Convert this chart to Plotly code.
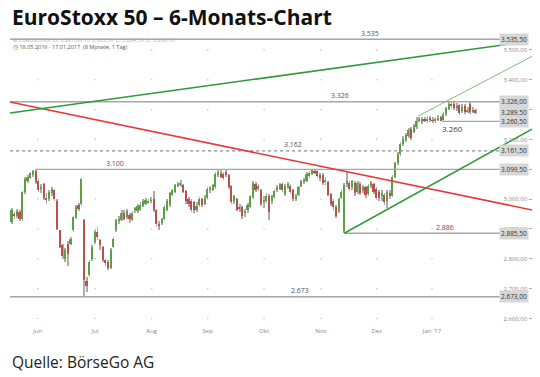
import plotly.graph_objects as go
import numpy as np

# ---------------- data ----------------
opens = [2922,2950,2945,2958,2932,3024,3060,3072,3080,3095,
         3062,3035,3050,3005,3000,3020,3030,2995,2895,2845,
         2800,2850,2850,2896,2940,2980,2982,2930,2726,2746,
         2798,2855,2890,2862,2838,2795,2790,2770,2840,2895,
         2925,2930,2955,2940,2948,2930,2962,2960,2965,2978,
         2985,2990,2992,3000,2962,2918,2920,2935,2965,2980,
         3015,3025,3045,3050,3048,3028,3000,2995,2990,2965,
         2980,3000,2985,3003,3030,3032,3040,3080,3088,3085,
         3092,3080,3045,2995,3000,2975,2972,2952,2962,2975,
         3008,3052,3035,3030,2990,2995,3012,2995,3008,3030,
         3035,3050,3018,3040,3045,3030,3000,3015,3045,3058,
         3062,3078,3085,3094,3095,3080,3082,3060,3058,3018,
         2995,2975,2960,3005,2892,3050,3055,3040,3055,3025,
         3052,3030,3040,3018,3045,3050,3035,3025,3010,3015,
         2995,3020,3012,3075,3120,3150,3185,3198,3212,3235,
         3225,3240,3265,3258,3268,3262,3270,3265,3262,3268,
         3275,3265,3285,3302,3318,3320,3305,3315,3295,3312,
         3295,3318,3295,3297]
highs = [2970,2958,2968,2965,3028,3075,3080,3092,3098,3099.5,
         3066,3050,3055,3020,3030,3040,3035,3000,2898,2850,
         2835,2858,2872,2945,2980,2988,3072,2935,2738,2795,
         2845,2895,2905,2868,2842,2800,2795,2835,2872,2935,
         2945,2962,2965,2968,2955,2960,2975,2985,2990,3000,
         3005,3000,3008,3028,2968,2925,2938,2980,3000,3025,
         3035,3052,3058,3064,3052,3032,3008,3000,2995,2990,
         3008,3005,3015,3040,3045,3052,3090,3098,3097,3092,
         3097,3085,3048,3015,3005,2985,2978,2968,2988,3015,
         3060,3058,3052,3035,3010,3020,3018,3015,3035,3048,
         3055,3058,3050,3058,3052,3035,3018,3045,3065,3072,
         3090,3095,3099,3098,3100,3088,3088,3075,3062,3022,
         3002,2980,3005,3032,3055,3090,3062,3065,3060,3060,
         3058,3048,3045,3050,3062,3055,3040,3032,3030,3022,
         3030,3030,3080,3125,3158,3192,3210,3222,3238,3240,
         3252,3275,3276,3275,3276,3278,3280,3275,3274,3282,
         3280,3292,3310,3326,3325,3324,3322,3320,3318,3318,
         3310,3324,3308,3303.5]
lows = [2915,2935,2938,2925,2926,3018,3055,3068,3075,3052,
        3025,3020,2998,2985,2995,3012,2995,2895,2835,2800,
        2790,2775,2845,2890,2935,2960,2978,2672.7,2690,2740,
        2792,2850,2862,2830,2788,2775,2762,2765,2835,2890,
        2918,2925,2930,2935,2920,2925,2955,2955,2960,2972,
        2980,2985,2988,2958,2908,2895,2912,2930,2960,2975,
        3010,3020,3040,3042,3020,2985,2975,2958,2955,2958,
        2975,2972,2980,2998,3022,3028,3035,3075,3070,3065,
        3075,3035,2985,2985,2960,2958,2935,2940,2955,2970,
        3002,3025,3028,2978,2970,2988,2930,2985,3002,3025,
        3030,3025,3012,3035,3018,2995,2992,3010,3040,3052,
        3058,3072,3080,3085,3070,3062,3048,3048,3010,2978,
        2960,2938,2952,3000,2885.5,3040,3028,3032,3012,3018,
        3015,3020,3005,3010,3038,3018,2998,2995,2995,2980,
        2970,3000,3008,3070,3115,3145,3178,3190,3205,3198,
        3220,3235,3258,3252,3258,3255,3260,3255,3255,3262,
        3260.5,3262,3280,3298,3305,3298,3295,3282,3288,3285,
        3290,3285,3288,3284.5]
closes = [2963,2943,2960,2932,3024,3068,3075,3087,3095,3058,
          3032,3040,3005,2998,3025,3035,3000,2900,2840,2808,
          2830,2815,2865,2940,2975,2968,3068,2730,2710,2790,
          2840,2890,2872,2845,2795,2785,2770,2830,2868,2930,
          2935,2955,2935,2960,2932,2955,2970,2978,2980,2992,
          2997,2992,3000,2962,2915,2912,2932,2975,2995,3020,
          3030,3047,3052,3055,3025,2995,2985,2965,2963,2978,
          3002,2980,3005,3035,3038,3047,3085,3090,3075,3072,
          3082,3040,2990,3010,2965,2968,2942,2960,2980,3010,
          3055,3030,3045,2985,2998,3012,2958,3010,3028,3040,
          3050,3030,3045,3052,3025,3000,3012,3040,3060,3065,
          3085,3088,3096,3090,3078,3072,3055,3065,3015,2985,
          2975,2945,3000,3025,3048,3060,3035,3060,3020,3055,
          3022,3040,3015,3045,3055,3025,3005,3005,3020,2990,
          3025,3010,3075,3120,3150,3185,3200,3215,3230,3205,
          3245,3262,3270,3268,3265,3270,3266,3262,3268,3272,
          3262,3285,3305,3320,3315,3305,3312,3290,3310,3292,
          3300,3292,3300,3289.5]

month_labels = ["Jun", "Jul", "Aug", "Sep", "Okt", "Nov", "Dez", "Jan '17"]
month_pos = [9.7, 31.1, 52.2, 73.1, 94.1, 115.3, 136.1, 156.7]

y_ticks = [2600, 2700, 2800, 2900, 3000, 3100, 3200, 3300, 3400, 3500]
y_ticktext = ["2.600,00", "2.700,00", "2.800,00", "2.900,00", "3.000,00",
              "3.100,00", "3.200,00", "3.300,00", "3.400,00", "3.500,00"]

# horizontal support / resistance levels
level_values = [3535.5, 3326.0, 3260.5, 3161.5, 3099.5, 2885.5, 2673.0]
level_start = [-0.6, -0.6, 160.5, -0.6, 9.0, 124.0, -0.6]
level_names = ["3.535", "3.326", "3.260", "3.162", "3.100", "2.886", "2.673"]
level_name_pos = [133.6, 122.4, 164.2, 104.9, 38.5, 161.6, 107.5]
level_dash = ["solid", "solid", "solid", "dot", "solid", "solid", "solid"]
level_end = 182.1

# price boxes on the right
box_values = [3535.5, 3326.0, 3289.5, 3260.5, 3161.5, 3099.5, 2885.5, 2673.0]
box_texts = ["3.535,50", "3.326,00", "3.289,50", "3.260,50", "3.161,50",
             "3.099,50", "2.885,50", "2.673,00"]

# trend lines (two anchor points each)
red_x, red_y = [-0.63, 194.4], [3325.4, 2963.0]
glong_x, glong_y = [-0.63, 190.0], [3288.5, 3524.7]
gsup_x, gsup_y = [124.0, 194.0], [2885.5, 3234.4]
gch_x, gch_y = [151.5, 194.0], [3278.0, 3478.2]

# ---------------- figure ----------------
o = np.array(opens, float); h = np.array(highs, float)
l = np.array(lows, float); c = np.array(closes, float)
idx = np.arange(len(o))
up = c >= o
GREEN = "#5e9e44"
RED = "#b8504c"

fig = go.Figure()

# dot grid
gx, gy = np.meshgrid(month_pos, y_ticks)
fig.add_trace(go.Scatter(x=gx.ravel(), y=gy.ravel(), mode="markers",
                         marker=dict(size=1.6, color="#c8c8c8"),
                         hoverinfo="skip", showlegend=False))

# horizontal levels
for v, s, d in zip(level_values, level_start, level_dash):
    fig.add_trace(go.Scatter(x=[s, level_end], y=[v, v], mode="lines",
                             line=dict(color="#8a8a8a" if d == "dot" else "#a6a6a6",
                                       width=1.4, dash=d),
                             hoverinfo="skip", showlegend=False))

# wicks
fig.add_trace(go.Bar(x=idx, y=h - l, base=l, width=0.28,
                     marker=dict(color="#ababab", line=dict(width=0)),
                     hoverinfo="skip", showlegend=False))
# bodies
body_lo = np.minimum(o, c)
body_h = np.maximum(np.abs(c - o), 2.0)
fig.add_trace(go.Bar(x=idx, y=body_h, base=body_lo, width=0.6,
                     marker=dict(color=[GREEN if u else RED for u in up],
                                 line=dict(width=0)),
                     hoverinfo="skip", showlegend=False))

# trend lines
fig.add_trace(go.Scatter(x=red_x, y=red_y, mode="lines",
                         line=dict(color="#e8383a", width=1.5), showlegend=False, hoverinfo="skip"))
fig.add_trace(go.Scatter(x=glong_x, y=glong_y, mode="lines",
                         line=dict(color="#2f9a3a", width=1.5), showlegend=False, hoverinfo="skip"))
fig.add_trace(go.Scatter(x=gsup_x, y=gsup_y, mode="lines",
                         line=dict(color="#2f9a3a", width=1.5), showlegend=False, hoverinfo="skip"))
fig.add_trace(go.Scatter(x=gch_x, y=gch_y, mode="lines",
                         line=dict(color="#7cc278", width=1), showlegend=False, hoverinfo="skip"))

annotations = []
for name, pos, v in zip(level_names, level_name_pos, level_values):
    below = name == "3.260"
    annotations.append(dict(x=pos, y=v, xref="x", yref="y", text=name, showarrow=False,
                            yshift=-7 if below else 6,
                            font=dict(family="Open Sans", size=8 if below else 7,
                                      color="#444" if below else "#555")))
for t, v in zip(box_texts, box_values):
    annotations.append(dict(x=0.9943, y=v, xref="paper", yref="y", text=t, showarrow=False,
                            xanchor="right", yanchor="middle", bgcolor="#d7d7d7",
                            borderpad=1, font=dict(family="Open Sans", size=6.5, color="#333")))

PT, PB = 33, 326
def py(p):
    return (PB - p) / (PB - PT)

annotations += [
    dict(x=0.0, y=py(17), xref="paper", yref="paper", xanchor="left", yanchor="middle",
         xshift=2, text="<b>EuroStoxx 50 – 6-Monats-Chart</b>", showarrow=False,
         font=dict(family="Open Sans", size=21, color="#111")),
    dict(x=0.0, y=py(40), xref="paper", yref="paper", xanchor="left", yanchor="middle",
         xshift=3, text="Ø EUROSTOXX  O: 3.297,00  H: 3.303,50  L: 3.284,50  C: 3.289,50",
         showarrow=False, font=dict(family="Open Sans", size=5.5, color="#b0b0b0")),
    dict(x=0.0, y=py(47), xref="paper", yref="paper", xanchor="left", yanchor="middle",
         xshift=3, text="◷ 18.05.2016 - 17.01.2017  (8 Monate, 1 Tag)",
         showarrow=False, font=dict(family="Open Sans", size=5.5, color="#555")),
    dict(x=0.0, y=py(362), xref="paper", yref="paper", xanchor="left", yanchor="middle",
         xshift=2, text="Quelle: BörseGo AG", showarrow=False,
         font=dict(family="Open Sans", size=15.5, color="#222")),
]

fig.update_layout(
    width=540, height=377,
    margin=dict(l=8, r=8, t=PT, b=377 - PB),
    paper_bgcolor="white", plot_bgcolor="white",
    barmode="overlay", bargap=0, showlegend=False,
    annotations=annotations,
    xaxis=dict(range=[-1.38, 194.0], tickvals=month_pos, ticktext=month_labels,
               showgrid=False, zeroline=False, showline=False, ticks="",
               tickfont=dict(family="Open Sans", size=6, color="#888")),
    yaxis=dict(range=[2574.8, 3556.6], side="right", tickvals=y_ticks, ticktext=y_ticktext,
               ticklabelposition="inside", ticks="inside", ticklen=3, tickcolor="#aaa",
               showgrid=False, zeroline=False, showline=False,
               tickfont=dict(family="Open Sans", size=6, color="#888")),
)

fig.write_html("out.html", config={"displayModeBar": False},
               post_script="document.body.style.margin='0';document.body.style.overflow='hidden';")
